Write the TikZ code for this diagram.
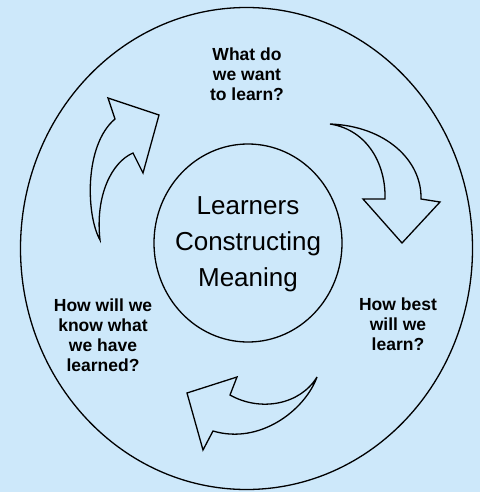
\documentclass[tikz,border=0pt]{standalone}
\usepackage{fontspec}
\setmainfont{Liberation Sans}
\definecolor{bgblue}{RGB}{205,232,250}
\begin{document}
\begin{tikzpicture}[x=1pt,y=-1pt,
  outline/.style={draw=black,line width=1.3pt,line join=miter},
  bigtext/.style={align=center,inner sep=0pt,font=\fontsize{26}{36}\selectfont},
  qtext/.style={align=center,inner sep=0pt,font=\fontsize{17.5}{20}\selectfont\bfseries}]
\fill[bgblue] (0,0) rectangle (480,492);
\useasboundingbox (0,0) rectangle (480,492);
% outer and inner circles
\draw[outline] (246.5,248.5) ellipse [x radius=226, y radius=241];
\draw[outline] (248,243) ellipse [x radius=94, y radius=99];
% texts
\node[bigtext] (centre) at (248,244) {Learners\\Constructing\\Meaning};
\node[qtext] (what) at (247,74) {What do\\we want\\to learn?};
\node[qtext] (best) at (398,324) {How best\\will we\\learn?};
\node[qtext] (know) at (103,335) {How will we\\know what\\we have\\learned?};
% arrow 1 (left, up-right)
\draw[outline] (100,240) .. controls (86,215) and (84,145) .. (115,119)
  -- (108,98) -- (159,115) -- (143,173) -- (133,153)
  .. controls (112,162) and (95,195) .. (100,240) -- cycle;
% arrow 2 (top right, downwards)
\draw[outline] (330,124) .. controls (385,126) and (422,160) .. (421,199)
  -- (440,202) -- (402,243) -- (363,199) -- (385,199)
  .. controls (386,165) and (368,130) .. (330,124) -- cycle;
% arrow 3 (bottom, leftwards)
\draw[outline] (317,377) .. controls (300,405) and (260,412) .. (230,395)
  -- (237,377) -- (187,393) -- (203,450) -- (213,431)
  .. controls (260,445) and (305,410) .. (317,377) -- cycle;
\end{tikzpicture}
\end{document}
